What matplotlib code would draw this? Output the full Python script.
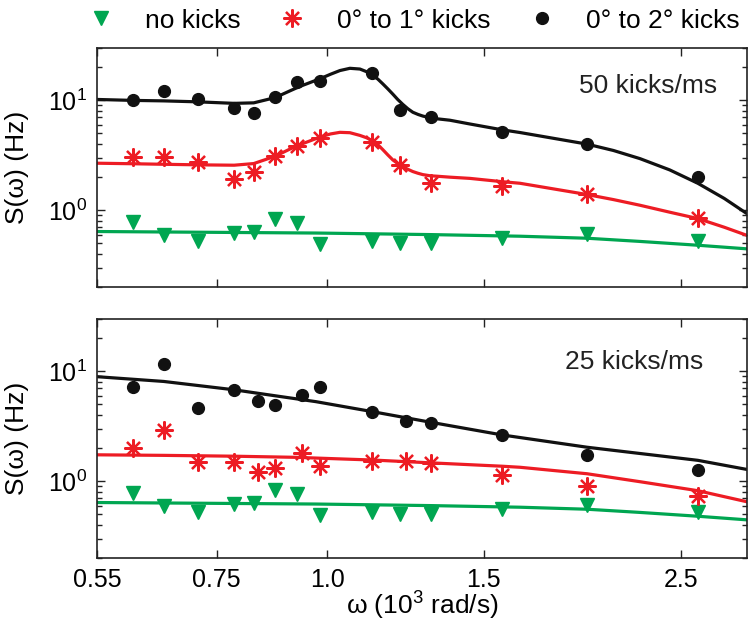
import matplotlib
matplotlib.use("Agg")
import matplotlib.pyplot as plt
from matplotlib.ticker import LogLocator, NullLocator, NullFormatter, FixedLocator, FixedFormatter

plt.rcParams['font.family'] = ['Liberation Sans', 'DejaVu Sans']
plt.rcParams['mathtext.fontset'] = 'custom'
plt.rcParams['mathtext.rm'] = 'Liberation Sans'
plt.rcParams['mathtext.it'] = 'Liberation Sans:italic'

# ---- data ----
x_top = [0.604, 0.654, 0.715, 0.785, 0.826, 0.873, 0.924, 0.982, 1.124, 1.207, 1.308, 1.573, 1.961, 2.614]
x_bot = [0.604, 0.654, 0.715, 0.785, 0.835, 0.873, 0.936, 0.982, 1.124, 1.227, 1.308, 1.573, 1.961, 2.614]

green_y = [0.78, 0.60, 0.53, 0.62, 0.63, 0.83, 0.77, 0.49, 0.53, 0.50, 0.50, 0.56, 0.61, 0.52]
red_top_y = [3.04, 3.08, 2.74, 1.91, 2.22, 3.13, 3.87, 4.5, 4.15, 2.59, 1.78, 1.67, 1.40, 0.85]
black_top_y = [10.0, 12.2, 10.2, 8.57, 7.6, 10.7, 14.8, 15.0, 17.9, 8.15, 7.03, 5.16, 4.01, 2.02]
red_bot_y = [2.01, 2.95, 1.49, 1.51, 1.21, 1.31, 1.81, 1.37, 1.54, 1.52, 1.47, 1.13, 0.91, 0.74]
black_bot_y = [7.26, 11.8, 4.65, 6.82, 5.42, 4.91, 6.10, 7.26, 4.28, 3.56, 3.37, 2.66, 1.75, 1.27]

# fitted curves
fit_top_x = [0.550, 0.604, 0.654, 0.715, 0.785, 0.826, 0.873, 0.907, 0.931, 0.982, 1.008, 1.033,
             1.060, 1.088, 1.106, 1.124, 1.140, 1.155, 1.170, 1.185, 1.200, 1.216, 1.232, 1.248,
             1.265, 1.281, 1.305, 1.329, 1.374, 1.447, 1.573, 1.648, 1.961, 2.100, 2.250, 2.430,
             2.614, 2.800, 2.970]
fit_black_top = [10.2, 10.0, 9.9, 9.7, 9.4, 9.5, 10.6, 12.2, 13.4, 15.8, 17.3, 18.7,
                 19.6, 19.3, 18.3, 17.0, 15.6, 14.1, 12.7, 11.4, 10.2, 9.2, 8.4, 7.8,
                 7.45, 7.2, 6.95, 6.8, 6.6, 6.1, 5.4, 5.1, 4.0, 3.5, 2.95, 2.33,
                 1.76, 1.28, 0.93]
fit_red_top = [2.68, 2.65, 2.62, 2.59, 2.57, 2.66, 3.1, 3.6, 3.95, 4.65, 4.95, 5.12,
               5.08, 4.8, 4.58, 4.3, 3.95, 3.55, 3.18, 2.87, 2.66, 2.5, 2.36, 2.25,
               2.17, 2.11, 2.06, 2.04, 2.0, 1.95, 1.82, 1.76, 1.39, 1.25, 1.11, 0.96,
               0.84, 0.70, 0.59]

fit_green_x = [0.550, 0.971, 1.308, 1.648, 1.961, 2.250, 2.614, 2.970]
fit_green = [0.64, 0.62, 0.60, 0.58, 0.556, 0.52, 0.48, 0.445]

fit_black_bot_x = [0.550, 0.654, 0.785, 0.873, 0.971, 1.124, 1.308, 1.573, 1.961, 2.614, 2.970]
fit_black_bot = [8.95, 8.1, 6.8, 6.0, 5.3, 4.3, 3.44, 2.64, 2.04, 1.55, 1.28]
fit_red_bot_x = [0.550, 0.654, 0.785, 0.924, 0.982, 1.124, 1.308, 1.573, 1.648, 1.961, 2.250, 2.614, 2.970]
fit_red_bot = [1.74, 1.72, 1.69, 1.65, 1.62, 1.56, 1.47, 1.37, 1.34, 1.17, 0.99, 0.82, 0.65]

xticks = [0.55, 0.75, 1.0, 1.5, 2.5]
xticklabels = ['0.55', '0.75', '1.0', '1.5', '2.5']
legend_labels = ['no kicks', '0° to 1° kicks', '0° to 2° kicks']
panel_labels = ['50 kicks/ms', '25 kicks/ms']

GREEN = '#00a651'
RED = '#ed1c24'
BLACK = '#111111'

W, H = 748, 626
fig = plt.figure(figsize=(W / 100, H / 100), dpi=100)
L, R = 97 / W, 747 / W
ax1 = fig.add_axes([L, 1 - 287 / H, R - L, 239 / H])
ax2 = fig.add_axes([L, 1 - 558 / H, R - L, 239 / H])

lw = 2.3
handles = None
panels = [
    (ax1, x_top, red_top_y, black_top_y, fit_top_x, fit_black_top, fit_top_x, fit_red_top,
     panel_labels[0], 0.742, 0.84),
    (ax2, x_bot, red_bot_y, black_bot_y, fit_black_bot_x, fit_black_bot, fit_red_bot_x, fit_red_bot,
     panel_labels[1], 0.72, 0.82),
]
for ax, xd, rd, bd, fbx, fb, frx, fr, lab, lx, ly in panels:
    ax.plot(fit_green_x, fit_green, color=GREEN, lw=lw, zorder=2)
    ax.plot(frx, fr, color=RED, lw=lw, zorder=2)
    ax.plot(fbx, fb, color=BLACK, lw=lw, zorder=2)
    h1, = ax.plot(x_top, green_y, linestyle='none', marker='v', color=GREEN, ms=9.5, mec=GREEN, zorder=3)
    h2, = ax.plot(xd, rd, linestyle='none', marker=(8, 2, 0), color=RED, ms=13, mew=1.6, zorder=3)
    h3, = ax.plot(xd, bd, linestyle='none', marker='o', color=BLACK, ms=8.5, zorder=3)
    handles = [h1, h2, h3]
    ax.set_xscale('log')
    ax.set_yscale('log')
    ax.set_xlim(0.55, 2.97)
    ax.set_ylim(0.2, 30)
    ax.xaxis.set_major_locator(FixedLocator(xticks))
    ax.xaxis.set_major_formatter(FixedFormatter(xticklabels))
    ax.xaxis.set_minor_locator(NullLocator())
    ax.yaxis.set_major_locator(LogLocator(base=10, subs=(1.0,)))
    ax.yaxis.set_minor_locator(LogLocator(base=10, subs=(2, 3, 4, 5, 6, 7, 8, 9)))
    ax.yaxis.set_minor_formatter(NullFormatter())
    ax.tick_params(which='both', direction='in', top=True, right=True, labelsize=18,
                   color='#222222', width=1.0)
    ax.tick_params(which='major', length=6, pad=7)
    ax.tick_params(which='minor', length=3.5)
    for s in ax.spines.values():
        s.set_linewidth(1.2)
        s.set_color('#222222')
    ax.set_ylabel('S(ω) (Hz)', fontsize=19)
    ax.yaxis.set_label_coords(-0.105, 0.5)
    ax.text(lx, ly, lab, transform=ax.transAxes, fontsize=19, ha='left', va='center', color='#222222')

ax1.tick_params(labelbottom=False)
ax2.set_xlabel('ω (10$^{3}$ rad/s)', fontsize=19)
ax2.xaxis.set_label_coords(0.5, -0.135)

fig.legend(handles, legend_labels, loc='center', bbox_to_anchor=(0.553, 0.967), ncol=3,
           frameon=False, fontsize=19, handlelength=1.0, handletextpad=1.18,
           columnspacing=1.45, borderpad=0.0)

fig.savefig('out.png', dpi=100)
